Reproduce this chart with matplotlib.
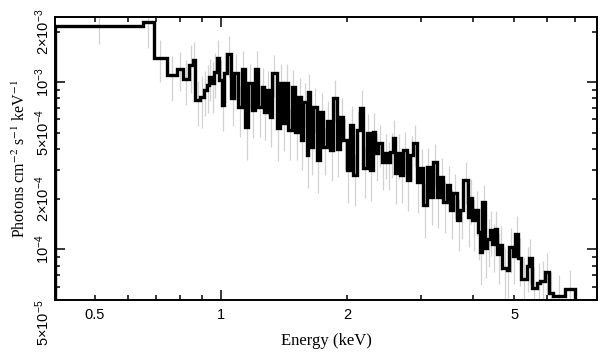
"""X 線スペクトル（unfolded）の段差プロット再現。out.png に保存。"""
import matplotlib
matplotlib.use("Agg")
import matplotlib.pyplot as plt
from matplotlib.ticker import FixedLocator, FuncFormatter
import numpy as np

plt.rcParams["font.family"] = ["Liberation Sans", "DejaVu Sans"]
plt.rcParams["mathtext.fontset"] = "custom"
plt.rcParams["mathtext.rm"] = "Liberation Sans"
plt.rcParams["mathtext.it"] = "Liberation Sans:italic"

# bin lower edges (keV) and last upper edge
e_lo = [0.402, 0.650, 0.692, 0.742, 0.784, 0.810, 0.840, 0.856, 0.868, 0.891,
        0.911, 0.925, 0.938, 0.950, 0.962, 0.977, 0.991, 1.004, 1.017, 1.032,
        1.057, 1.074, 1.096, 1.121, 1.141, 1.160, 1.184, 1.205, 1.226, 1.251,
        1.266, 1.286, 1.309, 1.321, 1.358, 1.383, 1.402, 1.421, 1.447, 1.475,
        1.501, 1.529, 1.552, 1.572, 1.601, 1.616, 1.631, 1.661, 1.692, 1.723,
        1.755, 1.788, 1.820, 1.854, 1.889, 1.923, 1.958, 1.995, 2.032, 2.069,
        2.108, 2.146, 2.186, 2.227, 2.268, 2.299, 2.331, 2.373, 2.418, 2.462,
        2.497, 2.531, 2.578, 2.602, 2.638, 2.675, 2.724, 2.775, 2.826, 2.877,
        2.932, 2.985, 3.040, 3.097, 3.153, 3.211, 3.272, 3.332, 3.393, 3.457,
        3.520, 3.585, 3.652, 3.719, 3.787, 3.880, 3.929, 3.979, 4.039, 4.099,
        4.151, 4.204, 4.267, 4.321, 4.385, 4.441, 4.507, 4.564, 4.626, 4.692,
        4.807, 4.876, 4.958, 5.031, 5.106, 5.200, 5.365, 5.413, 5.515, 5.668,
        5.772, 5.933, 6.042, 6.178, 6.622]
e_last = 6.998

# flux in 1e-4 photons cm^-2 s^-1 keV^-1
flux = [21.7, 22.9, 13.9, 11.0, 11.96, 10.4, 12.6, 13.5, 7.8, 8.1,
        8.95, 9.6, 10.75, 9.86, 11.5, 13.9, 10.3, 7.3, 11.3, 14.7,
        8.0, 11.3, 7.1, 11.96, 5.38, 9.86, 6.8, 11.96, 7.1, 9.3,
        6.6, 8.95, 6.17, 11.3, 5.3, 9.86, 5.68, 9.86, 5.16, 9.3,
        5.02, 8.1, 4.5, 7.6, 3.65, 8.7, 4.08, 7.1, 3.41, 6.6,
        4.08, 5.9, 3.91, 8.0, 4.0, 6.2, 4.5, 2.97, 5.53, 2.77,
        5.16, 6.99, 3.06, 4.95, 2.97, 5.02, 3.76, 4.31, 3.32, 3.76,
        3.32, 3.81, 4.62, 2.85, 3.76, 2.77, 3.91, 2.59, 3.65, 4.31,
        2.52, 3.06, 1.84, 3.1, 2.05, 3.32, 2.05, 2.70, 1.91, 2.42,
        1.71, 2.17, 1.49, 1.71, 2.59, 1.56, 2.02, 1.49, 1.71, 1.27,
        0.96, 1.91, 1.02, 1.16, 1.30, 1.08, 1.33, 0.94, 1.06, 0.77,
        0.75, 1.03, 0.92, 1.24, 0.89, 0.67, 0.80, 0.89, 0.59, 0.63,
        0.65, 0.73, 0.55, 0.53, 0.58]

# relative 1-sigma errors
rel_err = [0.22, 0.30, 0.28, 0.30, 0.26, 0.30, 0.32, 0.28, 0.30, 0.34,
           0.30, 0.32, 0.28, 0.34, 0.30, 0.28, 0.32, 0.30, 0.34, 0.28,
           0.32, 0.30, 0.34, 0.28, 0.36, 0.30, 0.32, 0.28, 0.34, 0.30,
           0.32, 0.30, 0.34, 0.28, 0.36, 0.30, 0.32, 0.30, 0.34, 0.28,
           0.32, 0.30, 0.34, 0.30, 0.36, 0.28, 0.32, 0.30, 0.36, 0.30,
           0.32, 0.30, 0.34, 0.28, 0.32, 0.30, 0.34, 0.36, 0.30, 0.34,
           0.30, 0.28, 0.34, 0.30, 0.34, 0.30, 0.32, 0.28, 0.32, 0.30,
           0.32, 0.30, 0.28, 0.34, 0.30, 0.32, 0.28, 0.34, 0.30, 0.28,
           0.34, 0.30, 0.36, 0.30, 0.32, 0.28, 0.34, 0.30, 0.34, 0.30,
           0.32, 0.30, 0.34, 0.32, 0.28, 0.34, 0.30, 0.34, 0.30, 0.32,
           0.36, 0.28, 0.34, 0.32, 0.30, 0.32, 0.28, 0.34, 0.30, 0.34,
           0.32, 0.30, 0.32, 0.28, 0.32, 0.34, 0.30, 0.30, 0.34, 0.32,
           0.32, 0.30, 0.34, 0.32, 0.30]

x_labels = {0.5: "0.5", 1: "1", 2: "2", 5: "5"}
y_labels = {5e-5: r"$5{\times}10^{-5}$", 1e-4: r"$10^{-4}$", 2e-4: r"$2{\times}10^{-4}$",
            5e-4: r"$5{\times}10^{-4}$", 1e-3: r"$10^{-3}$", 2e-3: r"$2{\times}10^{-3}$"}

edges = np.array(e_lo + [e_last])
f = np.array(flux) * 1e-4
err = f * np.array(rel_err)
cen = np.sqrt(edges[:-1] * edges[1:])
ybot = 5e-5

fig = plt.figure(figsize=(6.08, 3.63), dpi=100)
ax = fig.add_axes([0.0905, 0.174, 0.892, 0.779])
ax.set_xscale("log")
ax.set_yscale("log")

ax.errorbar(cen, f, yerr=err, fmt="none", ecolor="#d2d2d2", elinewidth=0.9, capsize=0, zorder=1)
ax.stairs(f, edges, baseline=ybot, color="black", lw=2.4, zorder=3)

ax.set_xlim(0.402, 7.9)
ax.set_ylim(ybot, 2.45e-3)


def _lab(table):
    def fmt(v, pos):
        for k, s in table.items():
            if abs(v / k - 1) < 1e-6:
                return s
        return ""
    return FuncFormatter(fmt)


ax.xaxis.set_major_locator(FixedLocator([1.0]))
ax.xaxis.set_minor_locator(FixedLocator([0.5, 0.6, 0.7, 0.8, 0.9, 2, 3, 4, 5, 6, 7]))
ax.xaxis.set_major_formatter(_lab(x_labels))
ax.xaxis.set_minor_formatter(_lab(x_labels))
ax.yaxis.set_major_locator(FixedLocator([1e-4, 1e-3]))
ax.yaxis.set_minor_locator(FixedLocator([5e-5, 6e-5, 7e-5, 8e-5, 9e-5, 2e-4, 3e-4, 4e-4, 5e-4,
                                         6e-4, 7e-4, 8e-4, 9e-4, 2e-3]))
ax.yaxis.set_major_formatter(_lab(y_labels))
ax.yaxis.set_minor_formatter(_lab(y_labels))

ax.tick_params(which="both", direction="in", top=True, right=True, width=1.1,
               labelsize=10.5, colors="black")
ax.tick_params(which="major", length=7)
ax.tick_params(which="minor", length=3.5)
ax.tick_params(axis="x", which="both", pad=6)
ax.tick_params(axis="y", which="both", pad=2)
for lab in ax.get_yticklabels(which="both"):
    lab.set_rotation(90)
    lab.set_va("center")
for t in ax.yaxis.get_minor_ticks():
    if abs(t.get_loc() / ybot - 1) < 1e-6:
        t.label1.set_va("top")
for sp in ax.spines.values():
    sp.set_linewidth(1.4)

ax.set_xlabel("Energy (keV)", fontfamily="Liberation Serif", fontsize=12, labelpad=8)
ax.set_ylabel(r"Photons cm$^{-2}$ s$^{-1}$ keV$^{-1}$", fontfamily="Liberation Serif",
              math_fontfamily="stix", fontsize=11.5, labelpad=3)

fig.savefig("out.png", dpi=100)
